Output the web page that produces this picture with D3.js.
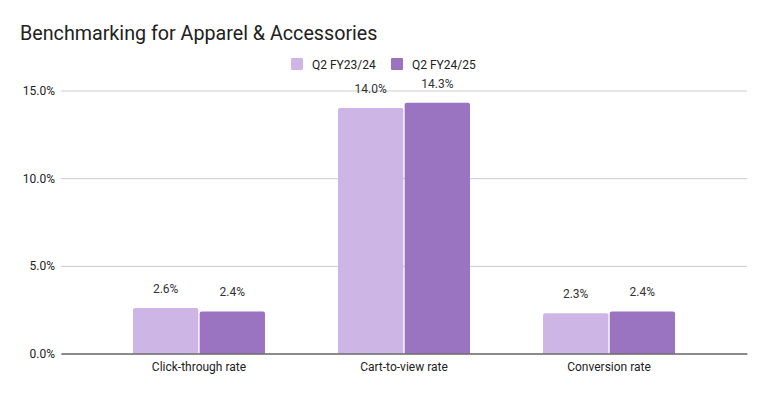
<!DOCTYPE html>
<html><head><meta charset="utf-8">
<script src="https://cdn.jsdelivr.net/npm/d3@7"></script>
<style>body{margin:0;background:#fff}svg{display:block}text{font-family:Roboto,Arial,sans-serif}</style>
</head><body><svg id="c" width="767" height="394"></svg>
<script>
const categories = ["Click-through rate", "Cart-to-view rate", "Conversion rate"];
const seriesNames = ["Q2 FY23/24", "Q2 FY24/25"];
const q2fy2324 = [2.6, 14.0, 2.3];
const q2fy2425 = [2.4, 14.3, 2.4];
const yTicks = [0, 5, 10, 15];
const colors = ["#cdb6e6", "#9b74c1"];

(function () {
const svg = d3.select("#c");
const W = 767, H = 394;
const pLeft = 61, pRight = 747, pTop = 90.5, pBottom = 353.5;

svg.append("rect").attr("width", W).attr("height", H).attr("fill", "#fff");

svg.append("text").attr("x", 20).attr("y", 40).attr("font-size", 19.7).attr("fill", "#212121")
  .text("Benchmarking for Apparel & Accessories");

const y = d3.scaleLinear().domain([0, 15]).range([pBottom, pTop]);
const x = d3.scaleBand().domain(categories).range([pLeft, pRight]).paddingInner(0).paddingOuter(0.173);
const groupW = 132;
const xs = d3.scaleBand().domain(seriesNames).range([0, groupW]).paddingInner(0.02);

const yAxis = d3.axisLeft(y).tickValues(yTicks).tickSize(-(pRight - pLeft)).tickFormat(d => d3.format(".1f")(d) + "%");
const ga = svg.append("g").attr("transform", `translate(${pLeft},0)`).call(yAxis);
ga.select(".domain").remove();
ga.selectAll(".tick line").attr("stroke", "#cccccc").attr("stroke-width", 1);
ga.selectAll(".tick text").attr("x", -6).attr("font-size", 12).attr("fill", "#222").attr("font-family", "Roboto, Arial, sans-serif");

const data = categories.map((c, i) => ({cat: c, vals: [q2fy2324[i], q2fy2425[i]]}));
const groups = svg.append("g").selectAll("g").data(data).join("g")
  .attr("transform", d => `translate(${x(d.cat) + x.bandwidth() / 2 - groupW / 2},0)`);

groups.selectAll("path").data(d => d.vals.map((v, j) => ({v, s: seriesNames[j], j}))).join("path")
  .attr("fill", d => colors[d.j])
  .attr("d", d => {
    const x0 = xs(d.s), w = xs.bandwidth(), y0 = y(d.v), r = 2;
    return `M${x0},${pBottom}V${y0 + r}Q${x0},${y0} ${x0 + r},${y0}H${x0 + w - r}Q${x0 + w},${y0} ${x0 + w},${y0 + r}V${pBottom}Z`;
  });

groups.selectAll("text").data(d => d.vals.map((v, j) => ({v, s: seriesNames[j], j}))).join("text")
  .attr("x", d => xs(d.s) + xs.bandwidth() / 2)
  .attr("y", d => y(d.v) - 15)
  .attr("text-anchor", "middle").attr("font-size", 12).attr("fill", "#333")
  .text(d => d3.format(".1f")(d.v) + "%");

const xAxis = d3.axisBottom(x).tickSize(0).tickPadding(9);
const gx = svg.append("g").attr("transform", `translate(0,${pBottom})`).call(xAxis);
gx.select(".domain").attr("stroke", "#333").attr("stroke-width", 1);
gx.selectAll(".tick text").attr("font-size", 12).attr("fill", "#222").attr("font-family", "Roboto, Arial, sans-serif");

const legX = [291, 391];
const lg = svg.append("g").selectAll("g").data(seriesNames).join("g")
  .attr("transform", (d, i) => `translate(${legX[i]},58)`);
lg.append("rect").attr("width", 12).attr("height", 12).attr("rx", 1).attr("fill", (d, i) => colors[i]);
lg.append("text").attr("x", 21).attr("y", 10.5).attr("font-size", 12).attr("fill", "#222").text(d => d);
})();
</script></body></html>
